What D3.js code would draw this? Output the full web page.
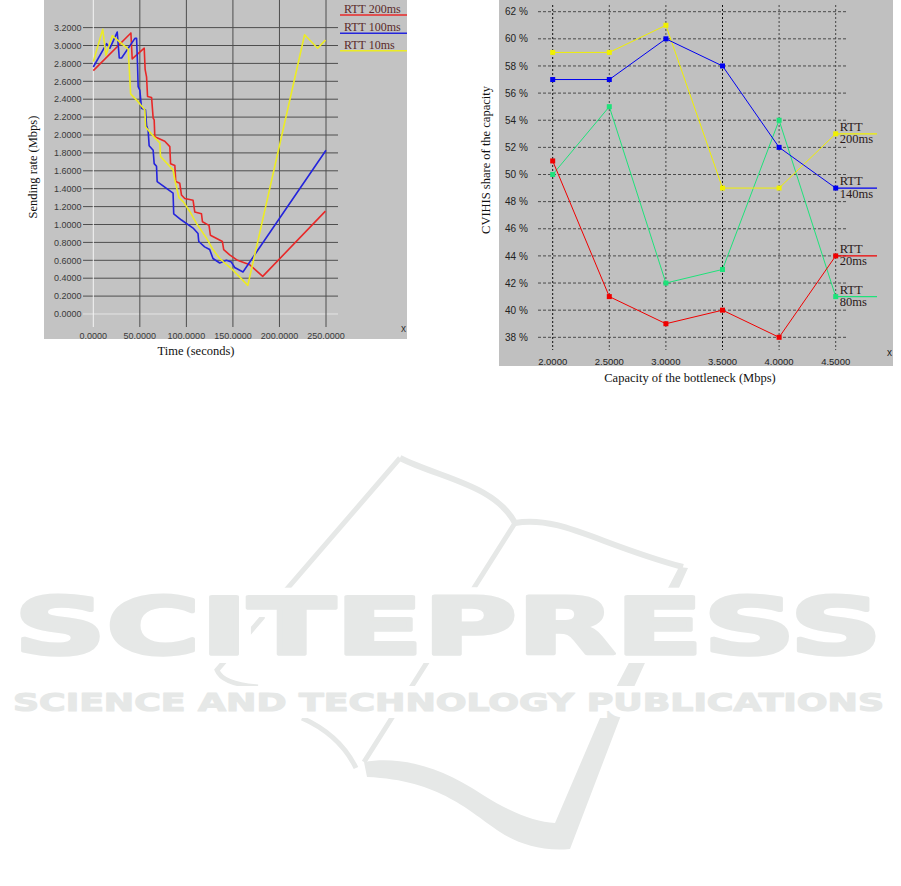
<!DOCTYPE html>
<html><head><meta charset="utf-8">
<script src="https://cdn.jsdelivr.net/npm/d3@7"></script>
<style>body{margin:0;background:#fff}svg{display:block}</style>
</head><body>
<svg id="c" width="901" height="886"></svg>
<script>
// ---------- Left chart data: Sending rate (Mbps) vs Time (s) ----------
const leftSeriesNames = ["RTT 200ms", "RTT 100ms", "RTT 10ms"];
const leftColors = ["#e82828", "#2424dc", "#ecec24"];
const rtt200 = [[0,2.72],[40.4,3.14],[41.8,2.85],[54.7,2.97],[55.7,2.73],[57.2,2.65],[58.3,2.43],[62.6,2.42],[64.3,2.19],[65.4,2.17],[66.1,1.98],[76.8,1.93],[82.2,1.87],[83.0,1.68],[87.6,1.66],[88.6,1.48],[92.9,1.46],[94.7,1.33],[98.3,1.29],[107.2,1.27],[109,1.14],[116.2,1.12],[117.3,1.03],[124.3,0.99],[125.8,0.88],[138.7,0.81],[140.1,0.72],[146.5,0.66],[155,0.60],[168,0.55],[182,0.42],[249.4,1.15]];
const rtt100 = [[0,2.76],[14.3,3.02],[17.9,2.97],[25.7,3.15],[27.9,2.86],[30.4,2.86],[44.7,3.08],[46.5,3.08],[47.6,2.76],[48.2,2.54],[50,2.50],[51.8,2.30],[56.1,2.28],[57.2,2.11],[58.9,2.05],[60,1.88],[64.3,1.83],[65.4,1.68],[67.9,1.65],[68.6,1.48],[85.7,1.35],[86.4,1.12],[94.7,1.05],[107.2,0.96],[112.5,0.90],[113.3,0.81],[119.6,0.75],[125,0.72],[128.6,0.62],[135.8,0.57],[143,0.60],[148.3,0.58],[151.9,0.52],[160.8,0.47],[250,1.83]];
const rtt10 = [[0,2.82],[10.1,3.18],[13.6,2.89],[20.4,3.11],[37.5,2.96],[40.1,2.46],[46.5,2.39],[55.4,2.28],[56.2,2.09],[65.1,1.98],[71.5,1.91],[72.2,1.76],[85.7,1.61],[87.6,1.50],[92,1.30],[97,1.25],[104,1.14],[111,1.01],[121.5,0.85],[128.6,0.72],[135.8,0.62],[150,0.49],[166,0.32],[227,3.12],[241,2.97],[249.4,3.06]];
const leftXTicks = [0,50,100,150,200,250];
const leftYTicks = [0,0.2,0.4,0.6,0.8,1.0,1.2,1.4,1.6,1.8,2.0,2.2,2.4,2.6,2.8,3.0,3.2];

// ---------- Right chart data: share of capacity (%) vs bottleneck (Mbps) ----------
const capacities = [2.0,2.5,3.0,3.5,4.0,4.5];
const share200 = [59,59,61,49,49,53];
const share140 = [57,57,60,58,52,49];
const share80  = [50,55,42,43,54,41];
const share20  = [51,41,39,40,38,44];
const rightSeriesNames = ["200ms","140ms","20ms","80ms"];
const rightColors = ["#f0f000","#0000f0","#f00000","#1ee27a"];
const rightYTicks = [38,40,42,44,46,48,50,52,54,56,58,60,62];

const svg = d3.select("#c");
const serif = "'Liberation Serif','Times New Roman',serif";
const sans = "'Liberation Sans',Arial,sans-serif";
const wmColor = "#e6e8e7";

// ================= Watermark (decoration) =================
const wm = svg.append("g").attr("fill",wmColor).attr("stroke","none");
wm.append("path").attr("fill","none").attr("stroke",wmColor).attr("stroke-width",5)
  .attr("d","M400,458 L217,670 Q222,684 258,687 M302,718 Q340,735 356,768 M515,523 L364,762");
wm.append("path").attr("fill","none").attr("stroke",wmColor).attr("stroke-width",6)
  .attr("d","M400,458 C440,478 495,485 515,523 C560,515 600,545 683,567");
wm.append("path")
  .attr("d","M364,762 C400,756 440,766 483,795 C510,812 535,822 555,823 L600,718 L679,567 L688,568 L620,718 L570,849 C540,852 515,842 500,832 C470,812 440,780 367,777 Z");
const wt = svg.append("g").attr("font-family","'DejaVu Sans',sans-serif").attr("font-weight","bold");
function wmText(x,y,len,size,knock,thick,str){
  wt.append("text").attr("x",x).attr("y",y).attr("textLength",len).attr("lengthAdjust","spacingAndGlyphs")
    .attr("font-size",size).attr("fill","#fff").attr("stroke","#fff").attr("stroke-width",knock).text(str);
  wt.append("text").attr("x",x).attr("y",y).attr("textLength",len).attr("lengthAdjust","spacingAndGlyphs")
    .attr("font-size",size).attr("fill",wmColor).attr("stroke",wmColor).attr("stroke-width",thick)
    .attr("stroke-linejoin","round").text(str);
}
wmText(14,654,868,78,18,3.5,"SCITEPRESS");
wmText(13,711,871,25,14,1.2,"SCIENCE AND TECHNOLOGY PUBLICATIONS");

// ================= Left chart =================
const L = svg.append("g");
L.append("rect").attr("x",44).attr("y",0).attr("width",363).attr("height",339).attr("fill","#c3c3c3");
const lx = d3.scaleLinear().domain([0,250]).range([93.3,326]);
const ly = d3.scaleLinear().domain([0,3.2]).range([314,27.6]);
L.selectAll("line.h").data(leftYTicks).join("line")
  .attr("x1",83).attr("x2",338).attr("y1",d=>ly(d)).attr("y2",d=>ly(d))
  .attr("stroke",d=>d===0?"#e4e4e4":"#4e4e4e").attr("stroke-width",1);
L.selectAll("line.v").data(leftXTicks).join("line")
  .attr("x1",d=>lx(d)).attr("x2",d=>lx(d)).attr("y1",0).attr("y2",327)
  .attr("stroke",d=>d===0?"#f4f4f4":"#4e4e4e").attr("stroke-width",1);
L.selectAll("text.yt").data(leftYTicks).join("text")
  .attr("x",81.5).attr("y",d=>ly(d)+3.2).attr("text-anchor","end")
  .attr("font-family",sans).attr("font-size",9).attr("fill","#3a3a3a")
  .text(d=>d.toFixed(4));
L.selectAll("text.xt").data(leftXTicks).join("text")
  .attr("x",d=>lx(d)).attr("y",339).attr("text-anchor","middle")
  .attr("font-family",sans).attr("font-size",9).attr("fill","#3a3a3a")
  .text(d=>d.toFixed(4));
L.append("text").attr("x",401).attr("y",332).attr("font-family",sans).attr("font-size",10).attr("fill","#333").text("x");
const lline = d3.line().x(d=>lx(d[0])).y(d=>ly(d[1]));
[rtt200, rtt100, rtt10].forEach((s,i)=>{
  L.append("path").datum(s).attr("d",lline).attr("fill","none")
   .attr("stroke",leftColors[i]).attr("stroke-width",1.6).attr("stroke-linejoin","round");
});
const legY = [15,33.3,50.7];
leftSeriesNames.forEach((n,i)=>{
  L.append("line").attr("x1",340).attr("x2",407).attr("y1",legY[i]).attr("y2",legY[i])
   .attr("stroke",leftColors[i]).attr("stroke-width",1.5);
  L.append("text").attr("x",344).attr("y",legY[i]-2.2).attr("font-family",serif)
   .attr("font-size",12).attr("fill","#5a2a2a").text(n);
});
svg.append("text").attr("x",196).attr("y",355).attr("text-anchor","middle")
  .attr("font-family",serif).attr("font-size",12.5).attr("fill","#111").text("Time (seconds)");
svg.append("text").attr("transform","translate(37,167) rotate(-90)").attr("text-anchor","middle")
  .attr("font-family",serif).attr("font-size",12.5).attr("fill","#111").text("Sending rate (Mbps)");

// ================= Right chart =================
const R = svg.append("g");
R.append("rect").attr("x",499).attr("y",0).attr("width",394).attr("height",366).attr("fill","#c0c0c0");
const rx = d3.scaleLinear().domain([2,4.5]).range([552.7,835.7]);
const ry = d3.scaleLinear().domain([38,62]).range([337.3,11.7]);
R.selectAll("line.h").data(rightYTicks).join("line")
  .attr("x1",538).attr("x2",848).attr("y1",d=>ry(d)).attr("y2",d=>ry(d))
  .attr("stroke","#4a4a4a").attr("stroke-width",1).attr("stroke-dasharray","3,2");
R.selectAll("line.v").data(capacities).join("line")
  .attr("x1",d=>rx(d)).attr("x2",d=>rx(d)).attr("y1",5).attr("y2",350)
  .attr("stroke",(d,i)=>i%3===0?"#111":"#444").attr("stroke-width",1).attr("stroke-dasharray","2,2");
R.selectAll("text.yt").data(rightYTicks).join("text")
  .attr("x",505).attr("y",d=>ry(d)+3.6)
  .attr("font-family",sans).attr("font-size",10).attr("fill","#222")
  .text(d=>d+" %");
R.selectAll("text.xt").data(capacities).join("text")
  .attr("x",d=>rx(d)).attr("y",365).attr("text-anchor","middle")
  .attr("font-family",sans).attr("font-size",9.5).attr("fill","#222")
  .text(d=>d.toFixed(4));
R.append("text").attr("x",887).attr("y",356).attr("font-family",sans).attr("font-size",10).attr("fill","#222").text("x");
const rseries = [share200, share140, share20, share80];
const rline = d3.line().x((d,i)=>rx(capacities[i])).y(d=>ry(d));
[3,2,0,1].forEach(k=>{
  const s = rseries[k];
  R.append("path").datum(s).attr("d",rline).attr("fill","none").attr("stroke",rightColors[k]).attr("stroke-width",1);
  R.selectAll(null).data(s).join("rect")
   .attr("x",(d,i)=>rx(capacities[i])-2.5).attr("y",d=>ry(d)-2.5).attr("width",5).attr("height",5)
   .attr("fill",rightColors[k]);
  const last = s[s.length-1];
  R.append("line").attr("x1",rx(4.5)).attr("x2",877).attr("y1",ry(last)).attr("y2",ry(last))
   .attr("stroke",rightColors[k]).attr("stroke-width",1.2);
  R.append("text").attr("x",rx(4.5)+4).attr("y",ry(last)-3).attr("font-family",serif)
   .attr("font-size",12.5).attr("fill","#2a1a1a").text("RTT");
  R.append("text").attr("x",rx(4.5)+4).attr("y",ry(last)+9.5).attr("font-family",serif)
   .attr("font-size",12.5).attr("fill","#2a1a1a").text(rightSeriesNames[k]);
});
svg.append("text").attr("x",690).attr("y",382).attr("text-anchor","middle")
  .attr("font-family",serif).attr("font-size",12.5).attr("fill","#111").text("Capacity of the bottleneck (Mbps)");
svg.append("text").attr("transform","translate(490,160) rotate(-90)").attr("text-anchor","middle")
  .attr("font-family",serif).attr("font-size",12.5).attr("fill","#111").text("CVIHIS share of the capacity");
</script>
</body></html>
